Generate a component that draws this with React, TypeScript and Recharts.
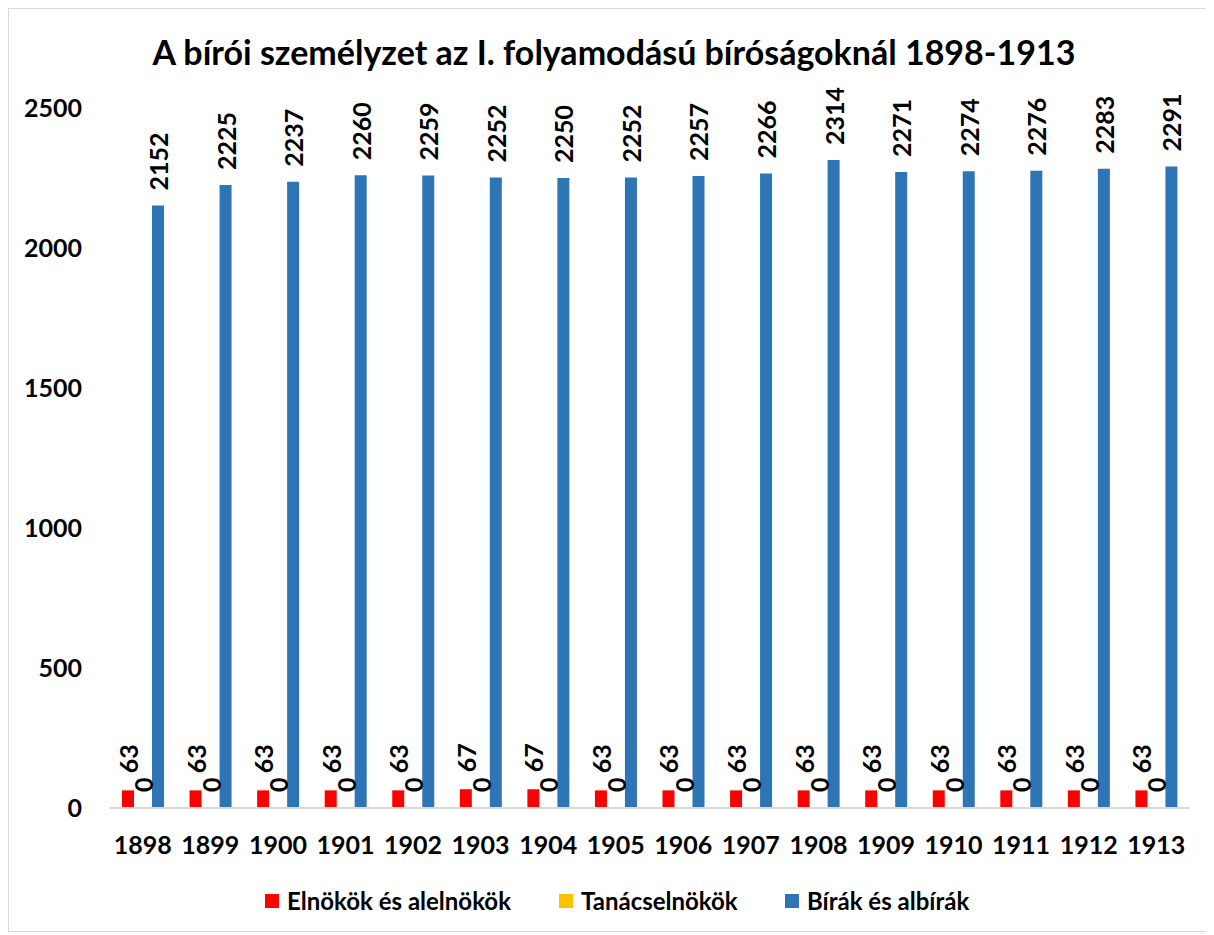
import React from 'react';
import { BarChart, Bar, XAxis, YAxis, LabelList } from 'recharts';

const years = ['1898', '1899', '1900', '1901', '1902', '1903', '1904', '1905', '1906', '1907', '1908', '1909', '1910', '1911', '1912', '1913'];
const elnokok = [63, 63, 63, 63, 63, 67, 67, 63, 63, 63, 63, 63, 63, 63, 63, 63];
const tanacselnokok = [0, 0, 0, 0, 0, 0, 0, 0, 0, 0, 0, 0, 0, 0, 0, 0];
const birak = [2152, 2225, 2237, 2260, 2259, 2252, 2250, 2252, 2257, 2266, 2314, 2271, 2274, 2276, 2283, 2291];
const yTicks = [0, 500, 1000, 1500, 2000, 2500];

const seriesNames = ['Elnökök és alelnökök', 'Tanácselnökök', 'Bírák és albírák'];
const colors = ['#ff0000', '#ffc000', '#2e75b6'];
const title = 'A bírói személyzet az I. folyamodású bíróságoknál 1898-1913';

const data = years.map((y, i) => ({
  year: y,
  elnokok: elnokok[i],
  tanacselnokok: tanacselnokok[i],
  birak: birak[i],
}));

const FONT = 'Lato, "Open Sans", sans-serif';
const BAR = 12;
const GAP = 3;

const RotLabel = ({ cx, ty, value }: { cx: number; ty: number; value: any }) => (
  <text
    x={cx}
    y={ty}
    transform={`rotate(-90, ${cx}, ${ty})`}
    textAnchor="start"
    dominantBaseline="central"
    fontFamily={FONT}
    fontWeight={700}
    fontSize={25}
    fill="#000"
  >
    {value}
  </text>
);

const makeLabel = (gap: number) => (props: any) => {
  const { x, y, width, value } = props;
  const cx = Number(x) + Number(width) / 2;
  return <RotLabel cx={cx} ty={Number(y) - gap} value={value} />;
};

// zero-height bars are not drawn, so the Tanácselnökök labels are placed
// relative to the neighbouring (Bírák) bar slot, at the zero baseline
const zeroSeriesLabel = (props: any) => {
  const { x, y, width, height, value } = props;
  const cx = Number(x) - GAP - BAR + Number(width) / 2;
  const base = Number(y) + Number(height);
  return <RotLabel cx={cx} ty={base - 16} value={value} />;
};

export default function App() {
  const legendLeft = [256, 550, 776];
  return (
    <div
      style={{
        position: 'relative',
        width: 1198,
        height: 922,
        border: '1px solid #d9d9d9',
        background: '#fff',
        fontFamily: FONT,
      }}
    >
      <div
        style={{
          position: 'absolute',
          left: 0,
          width: 1210,
          top: 23,
          textAlign: 'center',
          fontSize: 34,
          fontWeight: 700,
          color: '#000',
          lineHeight: '40px',
        }}
      >
        {title}
      </div>
      <BarChart
        width={1198}
        height={922}
        data={data}
        margin={{ top: 99, right: 17, bottom: 63, left: 0 }}
        barSize={BAR}
        barGap={GAP}
      >
        <XAxis
          dataKey="year"
          axisLine={{ stroke: '#d9d9d9', strokeWidth: 2 }}
          tickLine={false}
          tickSize={0}
          tickMargin={28}
          height={60}
          interval={0}
          tick={{ fontFamily: FONT, fontWeight: 700, fontSize: 25, fill: '#000' }}
        />
        <YAxis
          domain={[0, 2500]}
          ticks={yTicks}
          axisLine={false}
          tickLine={false}
          tickSize={0}
          tickMargin={27}
          width={100}
          tick={{ fontFamily: FONT, fontWeight: 700, fontSize: 25, fill: '#000' }}
        />
        <Bar dataKey="elnokok" name={seriesNames[0]} fill={colors[0]} isAnimationActive={false}>
          <LabelList dataKey="elnokok" content={makeLabel(17)} />
        </Bar>
        <Bar dataKey="tanacselnokok" name={seriesNames[1]} fill={colors[1]} isAnimationActive={false} />
        <Bar dataKey="birak" name={seriesNames[2]} fill={colors[2]} isAnimationActive={false}>
          <LabelList dataKey="birak" content={makeLabel(15)} />
          <LabelList dataKey="tanacselnokok" content={zeroSeriesLabel} />
        </Bar>
      </BarChart>
      {seriesNames.map((n, i) => (
        <div
          key={n}
          style={{
            position: 'absolute',
            left: legendLeft[i],
            top: 877,
            display: 'flex',
            alignItems: 'center',
            fontSize: 24,
            fontWeight: 700,
            color: '#000',
            whiteSpace: 'nowrap',
          }}
        >
          <span style={{ display: 'inline-block', width: 14, height: 14, background: colors[i], marginRight: 8 }} />
          {n}
        </div>
      ))}
    </div>
  );
}
